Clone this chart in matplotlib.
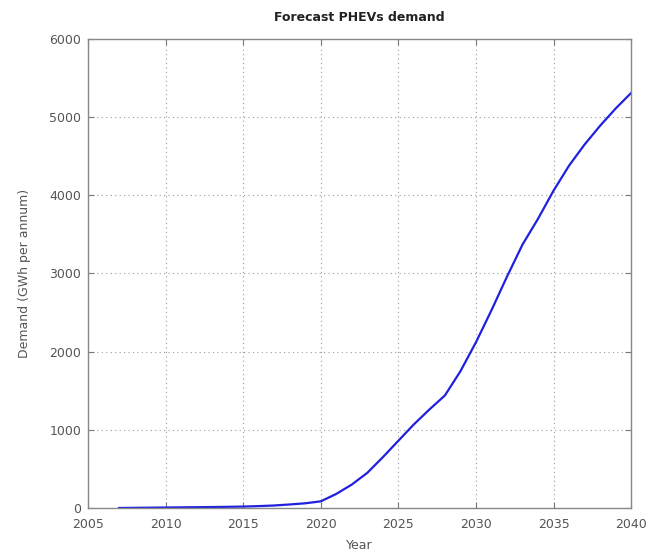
import matplotlib
matplotlib.use("Agg")
import matplotlib.pyplot as plt

years = list(range(2007, 2041))
demand = [0, 2, 4, 6, 8, 10, 12, 15, 18, 24, 32, 45, 60, 85,
          180, 300, 450, 650, 860, 1070, 1260, 1440, 1750, 2120,
          2530, 2960, 3370, 3700, 4060, 4380, 4650, 4890, 5110, 5310]
xticks = [2005, 2010, 2015, 2020, 2025, 2030, 2035, 2040]
yticks = [0, 1000, 2000, 3000, 4000, 5000, 6000]

fig = plt.figure(figsize=(6.52, 5.57), dpi=100)
ax = fig.add_axes([0.135, 0.088, 0.833, 0.842])
ax.plot(years, demand, color="#2020e0", linewidth=1.6)
ax.set_xlim(2005, 2040)
ax.set_ylim(0, 6000)
ax.set_xticks(xticks)
ax.set_yticks(yticks)
ax.grid(True, linestyle=(0, (1, 3)), color="#999999", linewidth=0.8)
ax.tick_params(direction="in", length=4, color="#777777", labelcolor="#555555", labelsize=9,
               top=True, right=True)
ax.tick_params(axis="x", pad=7)
ax.tick_params(axis="y", pad=5)
for s in ax.spines.values():
    s.set_color("#888888")
    s.set_linewidth(1.0)
ax.set_title("Forecast PHEVs demand", fontsize=9, fontweight="bold", color="#222222", pad=13)
ax.set_xlabel("Year", fontsize=9, color="#555555", labelpad=6)
ax.set_ylabel("Demand (GWh per annum)", fontsize=9, color="#555555", labelpad=13)
fig.savefig("out.png", dpi=100)
